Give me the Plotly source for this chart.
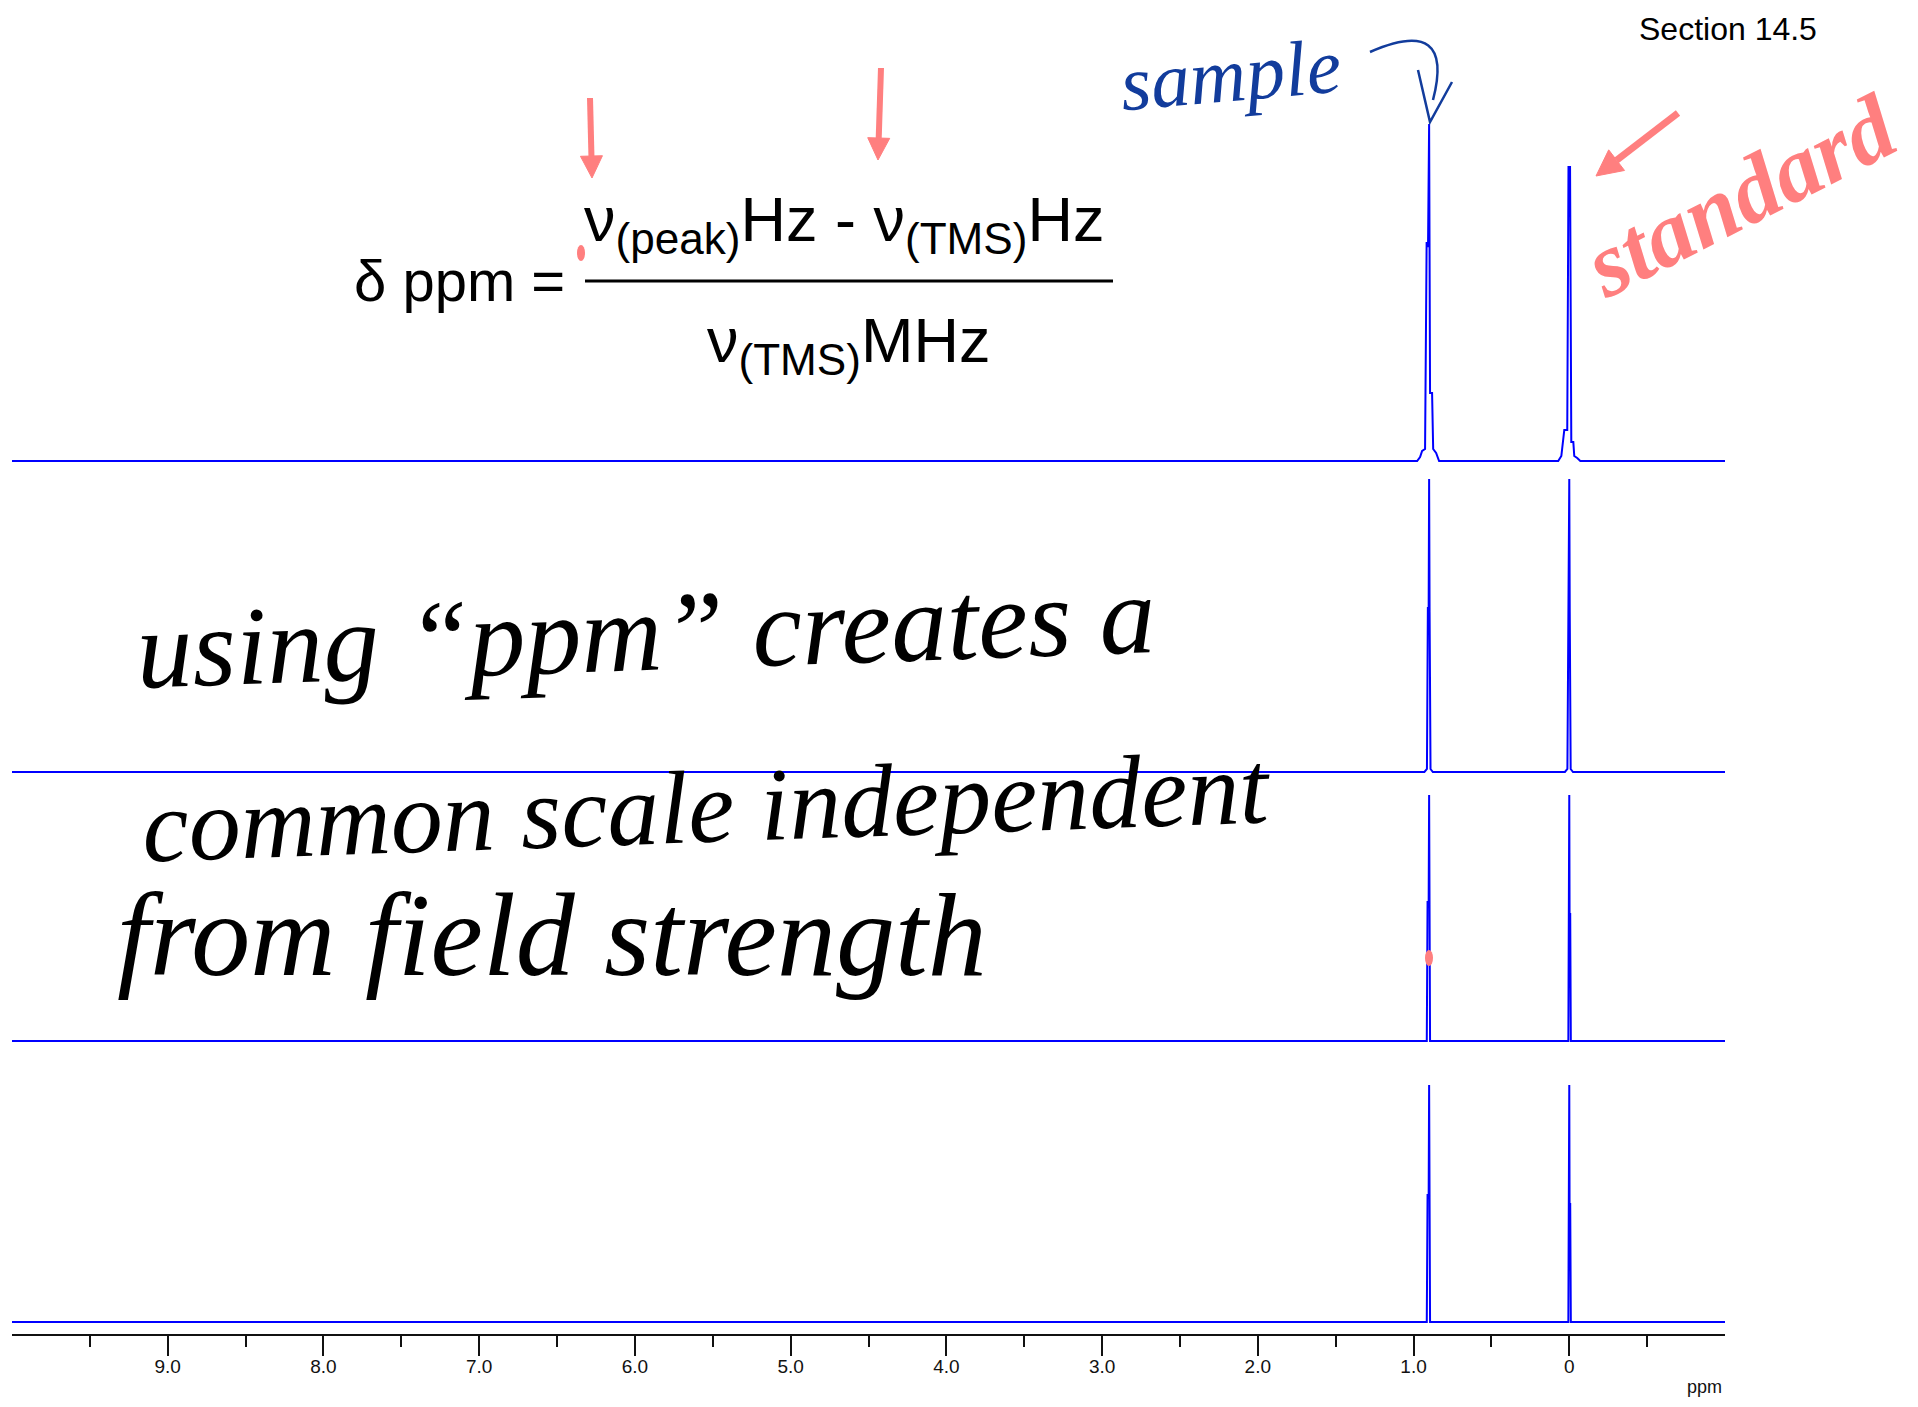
import math
import plotly.graph_objects as go

W, H = 1918, 1407
OFF = 8                      # default page margin around the plot
FW, FH = W - 2 * OFF, H - 2 * OFF

# ---------------- data ----------------
ppm_range = [10.0, -1.0]
major_ticks = [9, 8, 7, 6, 5, 4, 3, 2, 1, 0]
major_labels = ["9.0", "8.0", "7.0", "6.0", "5.0", "4.0", "3.0", "2.0", "1.0", "0"]
minor_ticks = [9.5, 8.5, 7.5, 6.5, 5.5, 4.5, 3.5, 2.5, 1.5, 0.5, -0.5]

# spectrum 1 (lowest field, broadest lines)
spec1_ppm = [10.0,
             0.977, 0.958, 0.945, 0.926, 0.916, 0.907, 0.900, 0.894, 0.881, 0.874, 0.855, 0.836,
             0.071, 0.051, 0.032, 0.013, 0.005, -0.005, -0.013, -0.026, -0.032, -0.051, -0.071,
             -1.0]
spec1_int = [0,
             0, 4, 10, 12, 219, 214, 337, 68, 68, 12, 8, 0,
             0, 5, 31, 31, 294, 294, 19, 19, 5, 3, 0,
             0]

# spectrum 2
spec2_ppm = [10.0,
             0.930, 0.914, 0.908, 0.903, 0.900, 0.897, 0.891, 0.876,
             0.028, 0.012, 0.006, 0.002, 0.000, -0.003, -0.009, -0.024,
             -1.0]
spec2_int = [0,
             0, 3, 165, 160, 293, 160, 3, 0,
             0, 3, 165, 160, 293, 160, 3, 0,
             0]

# spectrum 3
spec3_ppm = [10.0,
             0.915, 0.910, 0.903, 0.900, 0.897, 0.894,
             0.006, 0.003, 0.000, -0.002, -0.006, -0.010,
             -1.0]
spec3_int = [0,
             0, 140, 136, 246, 136, 0,
             0, 124, 246, 124, 128, 0,
             0]

# spectrum 4 (highest field, sharpest lines)
spec4_ppm = [10.0,
             0.915, 0.910, 0.903, 0.900, 0.897, 0.894,
             0.006, 0.003, 0.000, -0.002, -0.006, -0.010,
             -1.0]
spec4_int = [0,
             0, 128, 124, 237, 124, 0,
             0, 115, 237, 115, 119, 0,
             0]

spectra = [(spec1_ppm, spec1_int), (spec2_ppm, spec2_int),
           (spec3_ppm, spec3_int), (spec4_ppm, spec4_int)]

# ---------------- layout helpers (page pixels -> paper fractions) ----------------
def fx(p):
    return (p - OFF) / FW


def fy(p):
    return 1 - (p - OFF) / FH


# (top px, bottom px, baseline px) of each stacked panel
panels = [(100, 468, 461), (474, 779, 772), (783, 1048, 1041), (1052, 1334, 1322)]
x_dom = [fx(12), fx(1725)]

BLUE = "#0000ff"
SALMON = "#ff7f7f"
INK_BLUE = "#123c9c"

fig = go.Figure()
layout = dict(
    width=FW, height=FH,
    margin=dict(l=0, r=0, t=0, b=0),
    paper_bgcolor="white", plot_bgcolor="white",
    showlegend=False,
)

for i, ((xs, ys), (top, bot, base)) in enumerate(zip(spectra, panels), start=1):
    sfx = "" if i == 1 else str(i)
    fig.add_trace(go.Scatter(x=xs, y=ys, mode="lines",
                             line=dict(color=BLUE, width=2),
                             xaxis="x" + sfx, yaxis="y" + sfx,
                             hoverinfo="skip"))
    layout["yaxis" + sfx] = dict(domain=[fy(bot), fy(top)],
                                 range=[-(bot - base), base - top],
                                 visible=False, fixedrange=True,
                                 anchor="x" + sfx)
    xa = dict(domain=x_dom, range=ppm_range, anchor="y" + sfx,
              showgrid=False, zeroline=False)
    if i > 1:
        xa["matches"] = "x"
    if i < 4:
        xa["visible"] = False
    else:
        xa.update(showline=True, linecolor="#111", linewidth=2,
                  ticks="outside", ticklen=20, tickwidth=1.5, tickcolor="#111",
                  tickvals=major_ticks, ticktext=major_labels,
                  ticklabelstandoff=-6,
                  tickfont=dict(family="Liberation Sans", size=19, color="#111"),
                  minor=dict(tickvals=minor_ticks, ticks="outside", ticklen=11,
                             tickwidth=1.5, tickcolor="#111"))
    layout["xaxis" + sfx] = xa

fig.update_layout(**layout)

ann = []
F = "Liberation Sans"
# formula
ann.append(dict(x=fx(352), y=fy(280), xanchor="left", yanchor="middle",
                text="δ ppm =", font=dict(family=F, size=58, color="black")))
ann.append(dict(x=fx(844), y=fy(224), xanchor="center", yanchor="middle",
                text="ν<sub>(peak)</sub>Hz - ν<sub>(TMS)</sub>Hz",
                font=dict(family=F, size=63, color="black")))
ann.append(dict(x=fx(848), y=fy(344), xanchor="center", yanchor="middle",
                text="ν<sub>(TMS)</sub>MHz",
                font=dict(family=F, size=63, color="black")))
# section label
ann.append(dict(x=fx(1637), y=fy(29), xanchor="left", yanchor="middle",
                text="Section 14.5", font=dict(family=F, size=32, color="black")))
# axis unit
ann.append(dict(x=fx(1724), y=fy(1387), xanchor="right", yanchor="middle",
                text="ppm", font=dict(family=F, size=18, color="#111")))

# handwritten notes
HW = "Liberation Serif"
ann.append(dict(x=fx(645), y=fy(632), xanchor="center", yanchor="middle",
                text="<i>using “ppm” creates a</i>", textangle=-2,
                font=dict(family=HW, size=112, color="black")))
ann.append(dict(x=fx(706), y=fy(806), xanchor="center", yanchor="middle",
                text="<i>common scale independent</i>", textangle=-2,
                font=dict(family=HW, size=104, color="black")))
ann.append(dict(x=fx(552), y=fy(935), xanchor="center", yanchor="middle",
                text="<i>from field strength</i>",
                font=dict(family=HW, size=118, color="black")))
ann.append(dict(x=fx(1230), y=fy(74), xanchor="center", yanchor="middle",
                text="<i>sample</i>", textangle=-5,
                font=dict(family=HW, size=78, color=INK_BLUE)))
ann.append(dict(x=fx(1740), y=fy(196), xanchor="center", yanchor="middle",
                text="<b><i>standard</i></b>", textangle=-27,
                font=dict(family=HW, size=92, color=SALMON)))

for a in ann:
    a.setdefault("xref", "paper")
    a.setdefault("yref", "paper")
    a.setdefault("showarrow", False)
fig.update_layout(annotations=ann)


# hand-drawn arrows as shapes (shaft + filled head), page pixels -> paper
def add_arrow(tail, tip, color, width, head_len, head_w):
    dx, dy = tip[0] - tail[0], tip[1] - tail[1]
    n = math.hypot(dx, dy)
    ux, uy = dx / n, dy / n
    bx, by = tip[0] - ux * head_len, tip[1] - uy * head_len
    px_, py_ = -uy, ux
    fig.add_shape(type="line", xref="paper", yref="paper",
                  x0=fx(tail[0]), y0=fy(tail[1]), x1=fx(bx), y1=fy(by),
                  line=dict(color=color, width=width))
    p1 = (bx + px_ * head_w, by + py_ * head_w)
    p2 = (bx - px_ * head_w, by - py_ * head_w)
    path = (f"M {fx(tip[0])},{fy(tip[1])} L {fx(p1[0])},{fy(p1[1])} "
            f"L {fx(p2[0])},{fy(p2[1])} Z")
    fig.add_shape(type="path", xref="paper", yref="paper", path=path,
                  fillcolor=color, line=dict(color=color, width=1))


add_arrow((590, 98), (592, 178), SALMON, 6, 22, 11)
add_arrow((881, 68), (878, 160), SALMON, 6, 22, 11)
add_arrow((1678, 113), (1596, 176), SALMON, 7, 26, 13)

# fraction bar
fig.add_shape(type="line", xref="paper", yref="paper",
              x0=fx(585), x1=fx(1113), y0=fy(281), y1=fy(281),
              line=dict(color="black", width=3))
# hand-drawn connector from "sample" to its peak
curve = (f"M {fx(1370)},{fy(52)} Q {fx(1455)},{fy(15)} {fx(1433)},{fy(100)}"
         f" M {fx(1418)},{fy(70)} L {fx(1430)},{fy(122)} L {fx(1452)},{fy(82)}")
fig.add_shape(type="path", xref="paper", yref="paper", path=curve,
              line=dict(color=INK_BLUE, width=2.5))
# small ink marks
for cx, cy, r in [(581, 253, 4), (1429, 958, 4)]:
    fig.add_shape(type="circle", xref="paper", yref="paper",
                  x0=fx(cx - r), x1=fx(cx + r), y0=fy(cy + r * 2), y1=fy(cy - r * 2),
                  fillcolor=SALMON, line=dict(width=0))

fig.write_html("out.html")
